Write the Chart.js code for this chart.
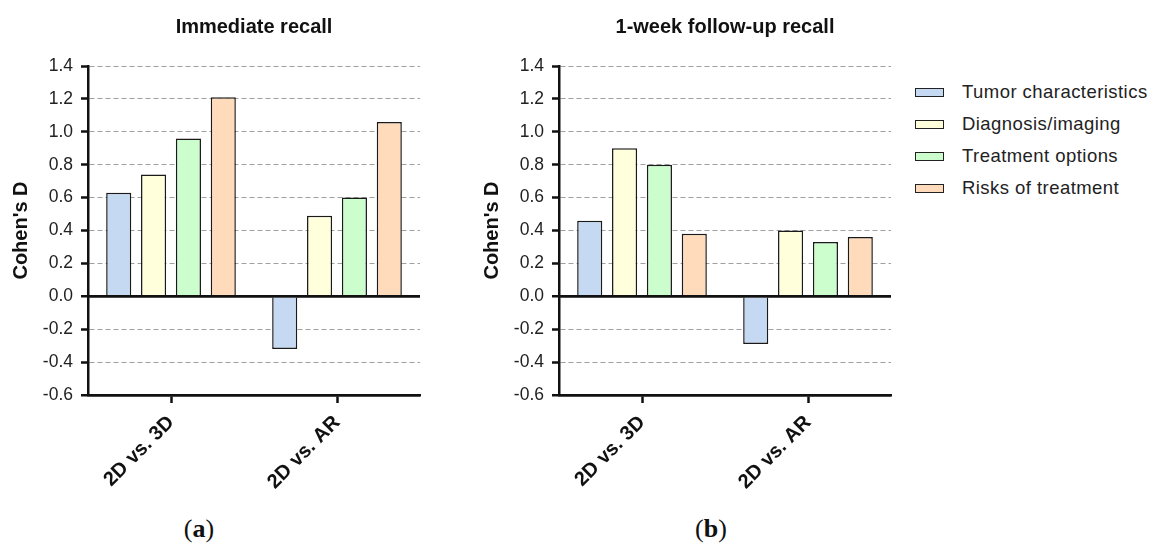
<!DOCTYPE html>
<html>
<head>
<meta charset="utf-8">
<script src="https://cdn.jsdelivr.net/npm/chart.js@4.4.0/dist/chart.umd.min.js"></script>
<style>
    body {
        margin: 0;
        width: 1152px;
        height: 547px;
        background: #fff;
        position: relative;
        overflow: hidden;
        font-family: Arial, "Liberation Sans", sans-serif;
    }
    .panel { position: absolute; top: 0; width: 440px; height: 510px; }
    #panelA { left: 0; }
    #panelB { left: 471px; }
    .sub {
        position: absolute;
        top: 514px;
        transform: translateX(-50%);
        font-family: "Times New Roman", "Liberation Serif", serif;
        font-size: 26px;
        color: #111;
    }
    #legend { position: absolute; left: 915px; top: 76px; }
    .row { display: flex; align-items: center; height: 32px; }
    .swatch { width: 27px; height: 7px; border: 1.5px solid #222; margin-right: 18px; }
    .row span { font-size: 18.5px; letter-spacing: 0.45px; color: #222; }
</style>
</head>
<body>
<div class="panel" id="panelA"><canvas id="chartA" width="440" height="510"></canvas></div>
<div class="panel" id="panelB"><canvas id="chartB" width="440" height="510"></canvas></div>
<div id="legend"></div>
<div class="sub" style="left:199px">(<b>a</b>)</div>
<div class="sub" style="left:711px">(<b>b</b>)</div>
<script>
// Cohen's D effect sizes

const comparisons = ['2D vs. 3D', '2D vs. AR'];
const seriesNames = ['Tumor characteristics', 'Diagnosis/imaging', 'Treatment options', 'Risks of treatment'];

// (a) Immediate recall
const immTumor = [0.63, -0.32];
const immDiagnosis = [0.74, 0.49];
const immTreatment = [0.96, 0.60];
const immRisks = [1.21, 1.06];

// (b) 1-week follow-up recall
const weekTumor = [0.46, -0.29];
const weekDiagnosis = [0.90, 0.40];
const weekTreatment = [0.80, 0.33];
const weekRisks = [0.38, 0.36];

const yMin = -0.6;
const yMax = 1.4;
const yStep = 0.2;

const fills = ['#c6d9f3', '#ffffdc', '#ccfdcc', '#ffdbbb'];
const FONT = 'Arial, "Liberation Sans", sans-serif';

// Helper: is this tick one that should be a solid black line (zero or bottom)
function isSolidTick(ctx) {
    if (!ctx.tick) return false;
    const v = ctx.tick.value;
    return Math.abs(v) < 1e-9 || Math.abs(v - yMin) < 1e-9;
}

// Redraw zero line on top of the bars
const zeroLine = {
    id: 'zeroLine',
    afterDatasetsDraw(chart) {
        const { ctx, chartArea, scales } = chart;
        const y = scales.y.getPixelForValue(0);
        ctx.save();
        ctx.strokeStyle = '#111';
        ctx.lineWidth = 2.5;
        ctx.beginPath();
        ctx.moveTo(chartArea.left, y);
        ctx.lineTo(chartArea.right, y);
        ctx.stroke();
        ctx.restore();
    }
};

function renderPanel(canvasId, title, seriesData) {
    const ctx = document.getElementById(canvasId).getContext('2d');

    const datasets = seriesData.map((values, i) => ({
        label: seriesNames[i],
        data: values,
        backgroundColor: fills[i],
        borderColor: '#1a1a1a',
        borderWidth: 1.5,
        barPercentage: 0.72,
        categoryPercentage: 0.84
    }));

    return new Chart(ctx, {
        type: 'bar',
        data: { labels: comparisons, datasets: datasets },
        options: {
            responsive: false,
            animation: false,
            layout: { padding: { top: 0, right: 20, bottom: 0, left: 0 } },
            plugins: {
                legend: { display: false },
                tooltip: { enabled: false },
                title: {
                    display: true,
                    fullSize: false,   // center over the plot area, not the canvas
                    text: title,
                    color: '#111',
                    font: { family: FONT, size: 20, weight: 'bold' },
                    padding: { top: 15, bottom: 27 }
                }
            },
            scales: {
                x: {
                    afterFit: s => { s.height = 115; },
                    grid: {
                        display: true,
                        offset: false,
                        drawOnChartArea: false,
                        drawTicks: true,
                        tickLength: 8,
                        tickWidth: 2.5,
                        tickColor: '#111'
                    },
                    border: { display: true, color: '#111', width: 2.5 },
                    ticks: {
                        autoSkip: false,
                        maxRotation: 45,
                        minRotation: 45,
                        padding: 8,
                        color: '#111',
                        font: { family: FONT, size: 20, weight: 'bold' }
                    }
                },
                y: {
                    min: yMin,
                    max: yMax,
                    afterFit: s => { s.width = 88; },
                    title: {
                        display: true,
                        text: "Cohen's D",
                        color: '#111',
                        font: { family: FONT, size: 20, weight: 'bold' },
                        padding: { top: 9, bottom: 0 }
                    },
                    grid: {
                        color: c => isSolidTick(c) ? '#111' : '#a0a0a0',
                        lineWidth: c => isSolidTick(c) ? 2.5 : 1,
                        tickColor: '#111',
                        tickWidth: 2.5,
                        tickLength: 7
                    },
                    border: {
                        display: true,
                        color: '#111',
                        width: 2.5,
                        dash: c => isSolidTick(c) ? [] : [5, 3]
                    },
                    ticks: {
                        stepSize: yStep,
                        padding: 8,
                        color: '#222',
                        font: { family: FONT, size: 17.5 },
                        callback: v => (Math.abs(v) < 1e-9 ? 0 : v).toFixed(1)
                    }
                }
            }
        },
        plugins: [zeroLine]
    });
}

renderPanel('chartA', 'Immediate recall', [immTumor, immDiagnosis, immTreatment, immRisks]);
renderPanel('chartB', '1-week follow-up recall', [weekTumor, weekDiagnosis, weekTreatment, weekRisks]);

// Shared legend to the right of panel (b)
const legend = document.getElementById('legend');
seriesNames.forEach((name, i) => {
    const row = document.createElement('div');
    row.className = 'row';
    const sw = document.createElement('div');
    sw.className = 'swatch';
    sw.style.background = fills[i];
    const txt = document.createElement('span');
    txt.textContent = name;
    row.appendChild(sw);
    row.appendChild(txt);
    legend.appendChild(row);
});
</script>
</body>
</html>
